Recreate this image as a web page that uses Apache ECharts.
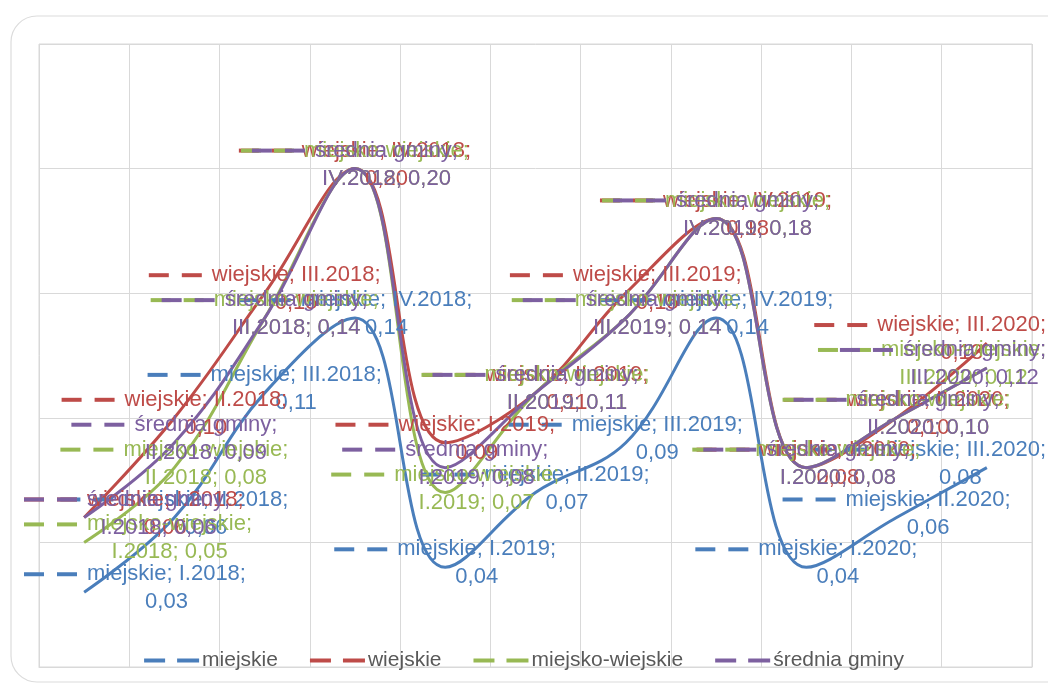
<!DOCTYPE html>
<html>
<head>
<meta charset="utf-8">
<script src="https://cdn.jsdelivr.net/npm/echarts@6/dist/echarts.min.js"></script>
<style>
  html, body { margin: 0; padding: 0; background: #fff; }
  #chart { width: 1048px; height: 687px; }
</style>
</head>
<body>
<div id="chart"></div>
<script>
// kwartały
const categories = ['I.2018', 'II.2018', 'III.2018', 'IV.2018', 'I.2019', 'II.2019',
  'III.2019', 'IV.2019', 'I.2020', 'II.2020', 'III.2020'];

const miejskie = [0.03, 0.06, 0.11, 0.14, 0.04, 0.07, 0.09, 0.14, 0.04, 0.06, 0.08];
const wiejskie = [0.06, 0.10, 0.15, 0.20, 0.09, 0.11, 0.15, 0.18, 0.08, 0.10, 0.13];
const miejskoWiejskie = [0.05, 0.08, 0.14, 0.20, 0.07, 0.11, 0.14, 0.18, 0.08, 0.10, 0.12];
const sredniaGminy = [0.06, 0.09, 0.14, 0.20, 0.08, 0.11, 0.14, 0.18, 0.08, 0.10, 0.12];

const seriesNames = ['miejskie', 'wiejskie', 'miejsko-wiejskie', 'średnia gminy'];
const colors = ['#4A7EBB', '#BE4B48', '#98B954', '#7D60A0'];

const yMin = 0, yMax = 0.25, yStep = 0.05;

const FONT = 'Liberation Sans';

let myChart = echarts.init(document.getElementById('chart'));

function makeSeries(name, data, color) {
  return {
    name: name,
    type: 'line',
    data: data,
    smooth: 0.4,
    symbol: 'circle',
    symbolSize: 0.1,
    itemStyle: { color: color },
    lineStyle: { color: color, width: 3 },
    label: {
      show: true,
      position: 'inside',
      formatter: function (p) {
        let v = p.value.toFixed(2).replace('.', ',');
        let l1, l2;
        if (name.length > 10) {           // długie nazwy łamane po nazwie
          l1 = name + ';';
          l2 = p.name + '; ' + v;
        } else {
          l1 = name + '; ' + p.name + ';';
          l2 = v;
        }
        return '{k| }{g| }{k| }{s| }{t|' + l1 + '}\n{sp| }{t|' + l2 + '}';
      },
      rich: {
        k: { width: 20, height: 4, backgroundColor: color, verticalAlign: 'middle' },
        g: { width: 13 },
        s: { width: 10 },
        sp: { width: 63 },
        t: { color: color, fontFamily: FONT, fontSize: 22, lineHeight: 28 }
      }
    },
    labelLayout: function (params) {
      // trzymaj etykiety w obszarze wykresu
      let r = params.labelRect;
      let dx = 0;
      if (r.x < 24) dx = 24 - r.x;
      if (r.x + r.width > 1046) dx = 1046 - r.x - r.width;
      return { dx: dx, dy: -4 };
    }
  };
}

let option = {
  animation: false,
  color: colors,
  grid: {
    left: 39,
    right: 16,
    top: 44,
    bottom: 20,
    show: true,
    borderColor: '#d9d9d9',
    borderWidth: 1
  },
  legend: {
    top: 645,
    left: 'center',
    itemGap: 32,
    itemWidth: 55,
    itemHeight: 4,
    icon: 'path://M0,0h21v4h-21z M33,0h22v4h-22z',
    data: seriesNames,
    textStyle: { fontFamily: FONT, fontSize: 21, color: '#595959', padding: [0, 0, 0, -2] }
  },
  xAxis: {
    type: 'category',
    data: categories,
    boundaryGap: true,
    axisLabel: { show: false },
    axisTick: { show: false },
    axisLine: { lineStyle: { color: '#d9d9d9' } },
    splitLine: { show: true, interval: 0, lineStyle: { color: '#d9d9d9', width: 1 } }
  },
  yAxis: {
    type: 'value',
    min: yMin,
    max: yMax,
    interval: yStep,
    axisLabel: { show: false },
    axisTick: { show: false },
    axisLine: { show: false },
    splitLine: { lineStyle: { color: '#d9d9d9', width: 1 } }
  },
  graphic: [
    {
      type: 'rect',
      shape: { x: 11, y: 16, width: 1080, height: 666, r: 26 },
      style: { fill: 'none', stroke: '#dcdcdc', lineWidth: 1.2 },
      silent: true,
      z: -1
    }
  ],
  series: [
    makeSeries(seriesNames[0], miejskie, colors[0]),
    makeSeries(seriesNames[1], wiejskie, colors[1]),
    makeSeries(seriesNames[2], miejskoWiejskie, colors[2]),
    makeSeries(seriesNames[3], sredniaGminy, colors[3])
  ]
};

myChart.setOption(option);
</script>
</body>
</html>
